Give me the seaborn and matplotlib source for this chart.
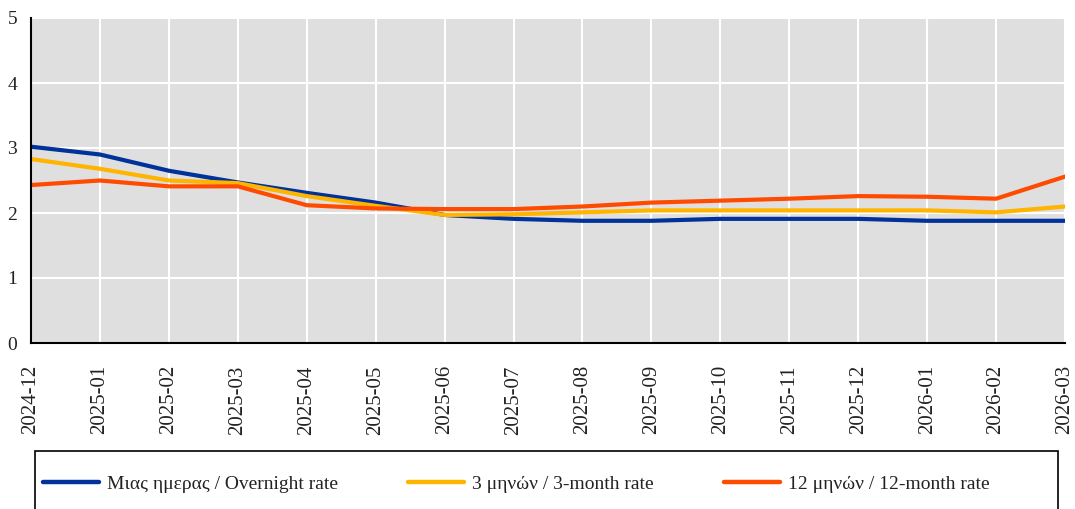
import matplotlib
matplotlib.use("Agg")
import matplotlib.pyplot as plt
from matplotlib.patches import Rectangle
import seaborn as sns
import pandas as pd

months = ["2024-12", "2025-01", "2025-02", "2025-03", "2025-04", "2025-05",
          "2025-06", "2025-07", "2025-08", "2025-09", "2025-10", "2025-11",
          "2025-12", "2026-01", "2026-02", "2026-03"]
overnight = [3.02, 2.90, 2.65, 2.47, 2.31, 2.16, 1.97, 1.91, 1.88, 1.88, 1.91, 1.91, 1.91, 1.88, 1.88, 1.88]
three_month = [2.83, 2.68, 2.50, 2.46, 2.26, 2.11, 1.97, 1.98, 2.01, 2.04, 2.04, 2.04, 2.04, 2.04, 2.01, 2.10]
twelve_month = [2.43, 2.50, 2.41, 2.41, 2.12, 2.07, 2.06, 2.06, 2.10, 2.16, 2.19, 2.22, 2.26, 2.25, 2.22, 2.56]
series_names = ["Μιας ημερας / Overnight rate", "3 μηνών / 3-month rate", "12 μηνών / 12-month rate"]
colors = ["#003299", "#FFB400", "#FF4B00"]
y_ticks = [0, 1, 2, 3, 4, 5]

df = pd.concat([
    pd.DataFrame({"month": months, "rate": vals, "series": name})
    for name, vals in zip(series_names, [overnight, three_month, twelve_month])
], ignore_index=True)

sns.set_style("white")
plt.rcParams["font.family"] = ["Liberation Serif", "DejaVu Serif"]

W, H = 1075, 509
fig = plt.figure(figsize=(W / 100, H / 100), dpi=100)
ax = fig.add_axes([31 / W, 1 - 343 / H, (1065 - 31) / W, (343 - 18) / H])
ax.set_facecolor("#dfdfdf")

sns.lineplot(data=df, x="month", y="rate", hue="series", palette=colors,
             hue_order=series_names, sort=False, linewidth=3, ax=ax, legend=True)

ax.set_xlim(0, len(months) - 1)
ax.set_ylim(0, 5)
ax.set_yticks(y_ticks)
ax.set_xticks(range(len(months)))
ax.set_xticklabels(months, rotation=90)
ax.grid(True, color="white", linewidth=1.5)
ax.set_axisbelow(True)
for s in ["top", "right"]:
    ax.spines[s].set_visible(False)
for s in ["left", "bottom"]:
    ax.spines[s].set_color("black")
    ax.spines[s].set_linewidth(1.5)
ax.tick_params(axis="x", length=0, pad=16, labelsize=15, colors="#222222")
ax.tick_params(axis="y", length=0, pad=10, labelsize=14, colors="#222222")
ax.set_xlabel("")
ax.set_ylabel("")

handles, labels = ax.get_legend_handles_labels()
ax.get_legend().remove()
leg = fig.legend(handles, labels, loc="center left", ncol=3,
                 bbox_to_anchor=(43 / W, 1 - 484 / H),
                 frameon=False, fontsize=14, handlelength=2.88,
                 borderaxespad=0, borderpad=0, handletextpad=0.41,
                 columnspacing=3.6)
for h in leg.get_lines():
    h.set_linewidth(3.2)
for t in leg.get_texts():
    t.set_color("#222222")

fig.add_artist(Rectangle((35 / W, -30 / H), (1058 - 35) / W, (H - 451 + 30) / H,
                         transform=fig.transFigure, fill=False,
                         edgecolor="black", linewidth=1.2, clip_on=False))

fig.savefig("out.png", dpi=100)
